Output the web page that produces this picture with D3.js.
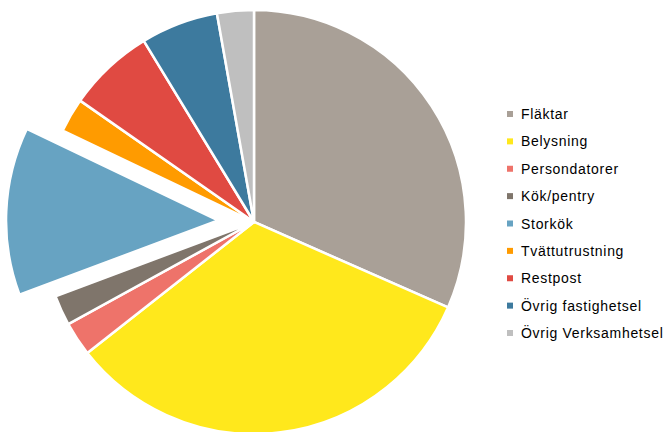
<!DOCTYPE html>
<html>
<head>
<meta charset="utf-8">
<script src="https://cdn.jsdelivr.net/npm/d3@7"></script>
<style>
  html, body { margin: 0; padding: 0; background: #fff; }
  svg { display: block; }
</style>
</head>
<body>
<svg id="chart" width="667" height="432"></svg>
<script>
// Energy use by category (share, %)
const categories = [
  "Fläktar", "Belysning", "Persondatorer", "Kök/pentry", "Storkök",
  "Tvättutrustning", "Restpost", "Övrig fastighetsel", "Övrig Verksamhetsel"
];
const shares = [31.6, 32.8, 2.6, 2.3, 12.8, 2.6, 6.6, 5.9, 2.8];
const colors = [
  "#A9A097", "#FFE81C", "#EE736A", "#7F756B", "#67A3C2",
  "#FF9B00", "#E04A42", "#3D7A9E", "#BFBFBF"
];
const explodedCategory = "Storkök";

const svg = d3.select("#chart");
const cx = 254, cy = 222, radius = 212, explode = 36;

const data = categories.map((c, i) => ({ name: c, value: shares[i], color: colors[i] }));

const pie = d3.pie().value(d => d.value).sort(null);
const arc = d3.arc().innerRadius(0).outerRadius(radius);

const g = svg.append("g").attr("transform", `translate(${cx},${cy})`);

g.selectAll("path")
  .data(pie(data))
  .join("path")
  .attr("d", arc)
  .attr("fill", d => d.data.color)
  .attr("stroke", "#fff")
  .attr("stroke-width", 2.5)
  .attr("stroke-linejoin", "round")
  .attr("transform", d => {
    if (d.data.name !== explodedCategory) return null;
    const mid = (d.startAngle + d.endAngle) / 2;
    return `translate(${explode * Math.sin(mid)},${-explode * Math.cos(mid)})`;
  });

// Legend
const legendY = d3.scalePoint().domain(categories).range([114, 333]);
const legend = svg.append("g");
const item = legend.selectAll("g")
  .data(data)
  .join("g")
  .attr("transform", d => `translate(507,${legendY(d.name)})`);
item.append("rect")
  .attr("x", 0).attr("y", -3).attr("width", 6).attr("height", 6)
  .attr("fill", d => d.color);
item.append("text")
  .attr("x", 14).attr("y", 0).attr("dy", "0.36em")
  .attr("font-family", "'Liberation Sans', Arial, sans-serif")
  .attr("font-size", 14)
  .attr("letter-spacing", 0.7)
  .attr("fill", "#000")
  .text(d => d.name);
</script>
</body>
</html>
